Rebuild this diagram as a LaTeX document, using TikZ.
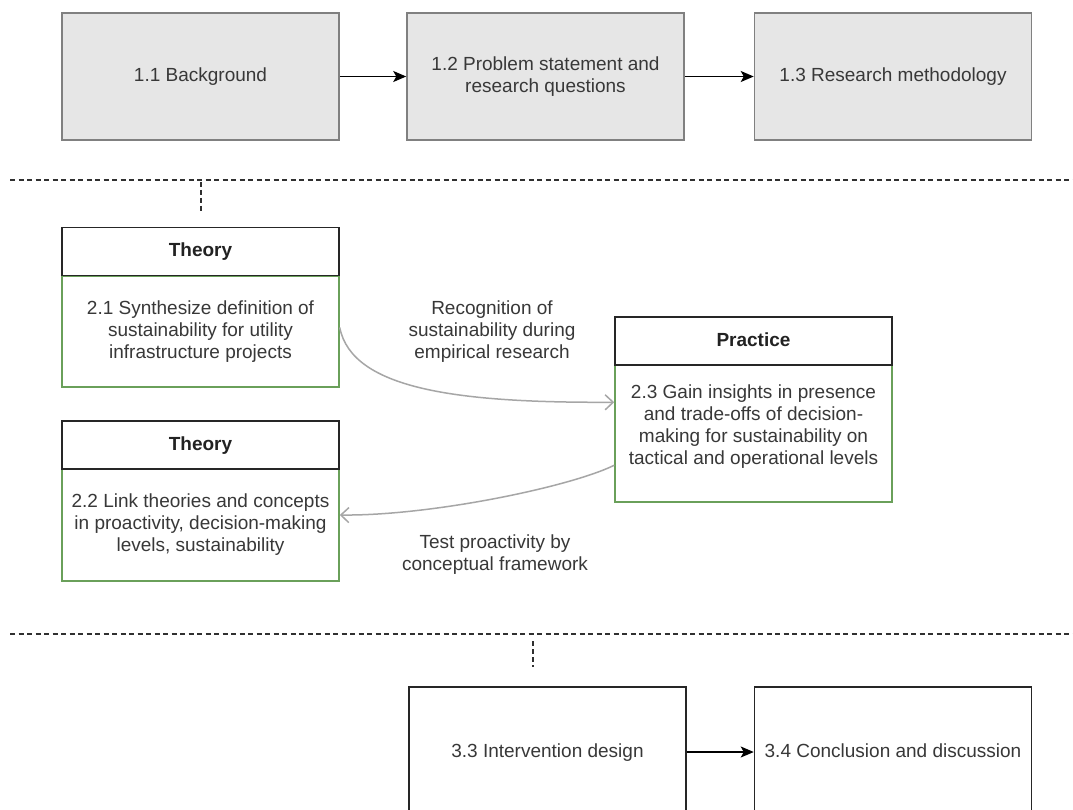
\documentclass[tikz,border=0pt]{standalone}
\usepackage{fontspec}
\setmainfont{Liberation Sans}
\usetikzlibrary{arrows.meta}

\definecolor{boxgray}{HTML}{E6E6E6}
\definecolor{edgegray}{HTML}{808080}
\definecolor{txt}{HTML}{383838}
\definecolor{headtxt}{HTML}{222222}
\definecolor{bodygreen}{HTML}{6AA05A}
\definecolor{linkgray}{HTML}{A6A6A6}
\definecolor{sepline}{HTML}{303030}

\tikzset{
  every node/.style={font=\fontsize{19}{22}\selectfont, text=txt, inner sep=0pt, align=center},
  oneline/.style={text height=14pt, text depth=4pt},
  graybox/.style={draw=edgegray, fill=boxgray, line width=1.5pt,
                  minimum width=277pt, minimum height=127pt},
  plainbox/.style={draw=black!85, fill=white, line width=1.5pt,
                   minimum width=277pt, minimum height=130pt},
  headbox/.style={draw=black!85, fill=white, line width=1.5pt,
                  minimum width=277pt, minimum height=48pt,
                  font=\fontsize{19}{22}\selectfont\bfseries, text=headtxt},
  bodybox/.style={draw=bodygreen, fill=white, line width=1.5pt,
                  minimum width=277pt},
  flow/.style={draw=black, line width=1.6pt,
               -{Stealth[length=13pt,width=11pt,inset=3pt]}},
  link/.style={draw=linkgray, line width=1.5pt,
               -{Straight Barb[length=8pt,width=15pt,line width=1.5pt]}},
  divider/.style={draw=sepline, line width=1.1pt, dash pattern=on 5pt off 3.5pt},
  stub/.style={draw=sepline, line width=1.1pt, dash pattern=on 5pt off 3pt}
}

\begin{document}
\begin{tikzpicture}[x=1pt,y=-1pt]
  \useasboundingbox (0,0) rectangle (1073,810);
  \fill[white] (0,0) rectangle (1073,810);
  \clip (0,0) rectangle (1073,810);

  % chapter 1
  \node[graybox, oneline] (b11) at (200.5,76.5) {1.1 Background};
  \node[graybox] (b12) at (545.5,76.5) {1.2 Problem statement and\\research questions};
  \node[graybox, oneline] (b13) at (893,76.5) {1.3 Research methodology};
  \draw[flow] (b11) -- (b12);
  \draw[flow] (b12) -- (b13);

  % first section divider
  \coordinate (d1l) at (10,180);
  \coordinate (d1r) at (1073,180);
  \draw[divider] (d1l) -- (d1r);
  \coordinate (s1a) at (201,182);
  \coordinate (s1b) at (201,212);
  \draw[stub] (s1a) -- (s1b);

  % chapter 2: theory blocks
  \node[bodybox, minimum height=111pt] (t1body) at (200.5,331.5)
    {2.1 Synthesize definition of\\sustainability for utility\\infrastructure projects};
  \node[headbox, oneline] (t1head) at (200.5,251.5) {Theory};

  \node[bodybox, minimum height=112pt] (t2body) at (200.5,525)
    {2.2 Link theories and concepts\\in proactivity, decision-making\\levels, sustainability};
  \node[headbox, oneline] (t2head) at (200.5,445) {Theory};

  % chapter 2: practice block
  \node[bodybox, minimum height=137pt] (prbody) at (753.5,433.5) {};
  \node (prtext) at (753.5,427)
    {2.3 Gain insights in presence\\and trade-offs of decision-\\making for sustainability on\\tactical and operational levels};
  \node[headbox, oneline] (prhead) at (753.5,341) {Practice};

  % links between theory and practice
  \draw[link] ([yshift=4pt]t1body.east)
    .. controls (352,390) and (460,403) .. ([yshift=-38pt]prbody.north west);
  \draw[link] ([yshift=-101pt]prbody.north west)
    .. controls (570,487) and (430,516) .. ([yshift=10pt]t2body.east);
  \node (lab1) at (492,332) {Recognition of\\sustainability during\\empirical research};
  \node (lab2) at (495,555) {Test proactivity by\\conceptual framework};

  % second section divider
  \coordinate (d2l) at (10,634);
  \coordinate (d2r) at (1073,634);
  \draw[divider] (d2l) -- (d2r);
  \coordinate (s2a) at (533,641);
  \coordinate (s2b) at (533,667);
  \draw[stub] (s2a) -- (s2b);

  % chapter 3
  \node[plainbox, oneline] (b33) at (547.5,752) {3.3 Intervention design};
  \node[plainbox, oneline] (b34) at (893,752) {3.4 Conclusion and discussion};
  \draw[flow] (b33) -- (b34);
\end{tikzpicture}
\end{document}
